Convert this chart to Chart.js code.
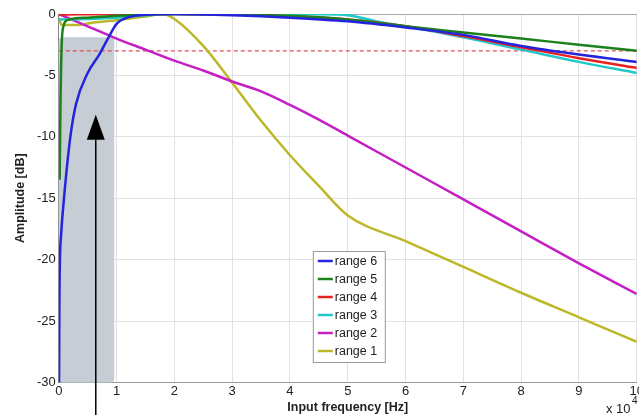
<!DOCTYPE html>
<html lang="en">
<head>
    <meta charset="UTF-8">
    <title>Amplitude vs input frequency</title>
    <script src="https://cdn.jsdelivr.net/npm/chart.js@4"></script>
    <style>
        body { margin: 0; background: #fff; overflow: hidden; }
        #wrap { width: 645px; height: 415px; }
    </style>
</head>
<body>
    <div id="wrap"><canvas id="myChart"></canvas></div>
<script>
    // frequency in units of 10^4 Hz, amplitude in dB
    const freqRange6 = [0.005, 0.01, 0.02, 0.04, 0.09, 0.2, 0.3, 0.5, 0.7, 0.85, 1.0, 1.15, 1.4, 2, 3, 4, 5, 6, 7, 8, 9, 10]
    const ampRange6  = [-30, -24, -20, -18, -15, -10, -7.3, -4.8, -3.3, -2, -0.8, -0.35, -0.1, 0, -0.1, -0.3, -0.6, -1.1, -1.7, -2.6, -3.3, -3.9]

    const freqRange5 = [0.015, 0.03, 0.05, 0.08, 0.15, 0.5, 1, 2, 3, 4, 5, 6, 7, 8, 9, 10]
    const ampRange5  = [-13.5, -7, -2.5, -1, -0.5, -0.3, -0.15, 0, -0.05, -0.15, -0.45, -1.0, -1.5, -2.0, -2.5, -3.0]

    const freqRange4 = [0, 1, 2, 3, 4, 5, 6, 7, 8, 9, 10]
    const ampRange4  = [-0.05, 0, 0, -0.05, -0.2, -0.45, -1.0, -1.8, -2.7, -3.6, -4.4]

    const freqRange3 = [0, 0.5, 1, 1.5, 2, 3, 4, 4.5, 5, 5.5, 6, 7, 8, 9, 10]
    const ampRange3  = [-0.45, -0.4, -0.3, -0.1, 0, 0, 0, -0.02, -0.1, -0.6, -1.0, -1.9, -2.9, -3.9, -4.8]

    const freqRange2 = [0, 0.5, 1, 1.5, 2, 2.5, 3, 3.5, 4, 4.5, 5, 6, 7, 8, 9, 10]
    const ampRange2  = [0, -1, -2, -2.9, -3.8, -4.6, -5.5, -6.3, -7.4, -8.6, -9.9, -12.5, -15.1, -17.7, -20.3, -22.8]

    const freqRange1 = [0, 0.05, 0.3, 0.6, 1, 1.5, 1.8, 2, 2.5, 3, 3.5, 4, 4.5, 5, 6, 7, 8, 9, 10]
    const ampRange1  = [-0.3, -0.9, -0.9, -0.7, -0.5, -0.2, 0, -0.4, -2.6, -5.6, -8.7, -11.5, -14, -16.4, -18.5, -20.6, -22.7, -24.7, -26.7]

    const thresholdDb = -3
    const shadedBand = { x0: 0, x1: 0.96, yTop: -1.9, yBottom: -30 }
    const arrowMark = { x: 0.64, tip: -8.2, base: -10.25 }

    const xTicks = [0, 1, 2, 3, 4, 5, 6, 7, 8, 9, 10]
    const yTicks = [0, -5, -10, -15, -20, -25, -30]

    const FONT = "'Liberation Sans', Arial, sans-serif"

    function pts(xs, ys) {
        return xs.map((x, i) => ({ x: x, y: ys[i] }))
    }

    function series(label, color, xs, ys) {
        return {
            label: label,
            data: pts(xs, ys),
            borderColor: color,
            backgroundColor: color,
            borderWidth: 2.5,
            pointRadius: 0,
            cubicInterpolationMode: 'monotone',
            fill: false
        }
    }

    // grey band under the curves, arrow + legend + multiplier on top
    const bandPlugin = {
        id: 'band',
        beforeDatasetsDraw(chart) {
            const ctx = chart.ctx
            const xs = chart.scales.x, ys = chart.scales.y
            const l = xs.getPixelForValue(shadedBand.x0)
            const r = xs.getPixelForValue(shadedBand.x1)
            const t = ys.getPixelForValue(shadedBand.yTop)
            const b = ys.getPixelForValue(shadedBand.yBottom)
            ctx.save()
            ctx.fillStyle = 'rgb(198, 205, 213)'
            ctx.beginPath()
            ctx.roundRect(l, t, r - l, b - t, 4)
            ctx.fill()
            ctx.restore()
        },
        afterDraw(chart) {
            const ctx = chart.ctx
            const xs = chart.scales.x, ys = chart.scales.y
            const ax = xs.getPixelForValue(arrowMark.x)
            const tip = ys.getPixelForValue(arrowMark.tip)
            const base = ys.getPixelForValue(arrowMark.base)
            ctx.save()
            ctx.strokeStyle = '#000'
            ctx.lineWidth = 1.5
            ctx.beginPath()
            ctx.moveTo(ax, chart.height)
            ctx.lineTo(ax, base)
            ctx.stroke()
            ctx.fillStyle = '#000'
            ctx.beginPath()
            ctx.moveTo(ax, tip)
            ctx.lineTo(ax - 9, base)
            ctx.lineTo(ax + 9, base)
            ctx.closePath()
            ctx.fill()

            // legend box inside the plot
            const area = chart.chartArea
            const lx = area.left + 254, ly = area.top + 237
            ctx.fillStyle = '#fff'
            ctx.fillRect(lx, ly, 72, 111)
            ctx.strokeStyle = '#999'
            ctx.lineWidth = 1
            ctx.strokeRect(lx + 0.5, ly + 0.5, 72, 111)
            ctx.font = '12.5px ' + FONT
            ctx.textBaseline = 'middle'
            const shown = chart.data.datasets.filter(d => d.label)
            shown.forEach((d, i) => {
                const y = ly + 10 + i * 18
                ctx.strokeStyle = d.borderColor
                ctx.lineWidth = 2.5
                ctx.beginPath()
                ctx.moveTo(lx + 5, y)
                ctx.lineTo(lx + 20, y)
                ctx.stroke()
                ctx.fillStyle = '#222'
                ctx.fillText(d.label, lx + 22, y + 1)
            })

            // x 10^4 multiplier
            ctx.fillStyle = '#222'
            ctx.font = '13px ' + FONT
            ctx.textBaseline = 'alphabetic'
            ctx.fillText('x 10', 606, 413)
            ctx.font = '10px ' + FONT
            ctx.fillText('4', 632, 404)
            ctx.restore()
        }
    }

    let ctx = document.getElementById('myChart').getContext('2d')
    let chart = new Chart(ctx, {
        type: 'line',
        data: {
            datasets: [
                series('range 6', '#2424dc', freqRange6, ampRange6),
                series('range 5', '#1c801c', freqRange5, ampRange5),
                series('range 4', '#e62222', freqRange4, ampRange4),
                series('range 3', '#22c8c8', freqRange3, ampRange3),
                series('range 2', '#c41ec4', freqRange2, ampRange2),
                series('range 1', '#bcb82a', freqRange1, ampRange1),
                {
                    label: '',
                    data: pts([xTicks[0], xTicks[xTicks.length - 1]], [thresholdDb, thresholdDb]),
                    borderColor: 'rgb(222, 80, 90)',
                    borderWidth: 1.2,
                    borderDash: [4, 3],
                    pointRadius: 0,
                    order: 10
                }
            ]
        },
        options: {
            responsive: true,
            maintainAspectRatio: false,
            animation: false,
            layout: { padding: { top: 14, left: 13, right: 0, bottom: 0 } },
            plugins: {
                legend: { display: false },
                tooltip: { enabled: false }
            },
            scales: {
                x: {
                    type: 'linear',
                    min: xTicks[0],
                    max: xTicks[xTicks.length - 1],
                    afterBuildTicks: (s) => { s.ticks = xTicks.map(v => ({ value: v })) },
                    ticks: { font: { family: FONT, size: 13 }, color: '#222', padding: 1 },
                    grid: { color: '#e2e2e2', drawTicks: false },
                    border: { color: '#999' },
                    title: {
                        display: true,
                        text: 'Input frequency [Hz]',
                        font: { family: FONT, size: 12.5, weight: 'bold' },
                        color: '#222',
                        padding: { top: 0, bottom: 0 }
                    }
                },
                y: {
                    min: yTicks[yTicks.length - 1],
                    max: yTicks[0],
                    afterBuildTicks: (s) => { s.ticks = yTicks.slice().reverse().map(v => ({ value: v })) },
                    ticks: { font: { family: FONT, size: 13 }, color: '#222', padding: 3 },
                    grid: {
                        color: (c) => c.tick && c.tick.value === 0 ? '#aaa' : '#e2e2e2',
                        drawTicks: false
                    },
                    border: { color: '#888' },
                    title: {
                        display: true,
                        text: 'Amplitude [dB]',
                        font: { family: FONT, size: 12.5, weight: 'bold' },
                        color: '#222',
                        padding: { top: 0, bottom: 6 }
                    }
                }
            }
        },
        plugins: [bandPlugin]
    })
</script>
</body>
</html>
